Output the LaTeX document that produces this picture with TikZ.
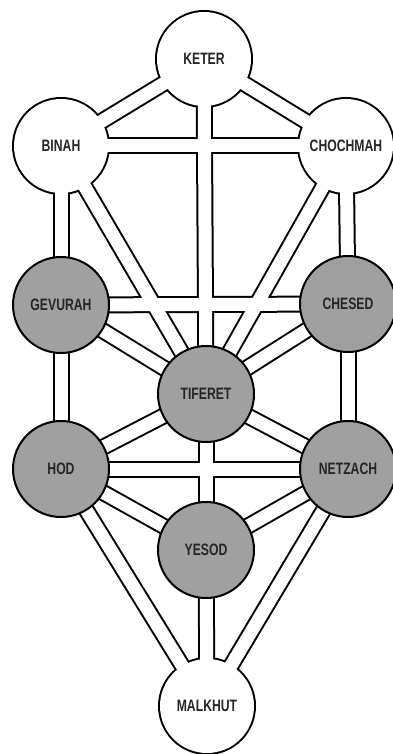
\documentclass[tikz,border=0pt]{standalone}
\usepackage{fontspec}
\setmainfont{Liberation Sans}[FakeStretch=0.74]
\definecolor{sefgray}{RGB}{160,160,160}
\pgfdeclarelayer{chA}
\pgfdeclarelayer{chB}
\pgfsetlayers{chA,chB,main}
\tikzset{
  chouter/.style={line width=17pt, black},
  chinner/.style={line width=13pt, white},
  sefname/.style={font=\bfseries\fontsize{16.5}{17}\selectfont, text=black!85},
  light/.style={circle, minimum size=94pt, inner sep=0pt, fill=white, sefname},
  shaded/.style={circle, minimum size=96pt, inner sep=0pt, fill=sefgray, draw=black, line width=2pt, sefname},
}
\begin{document}
\begin{tikzpicture}[x=1pt,y=-1pt]
\useasboundingbox (0,0) rectangle (393,754);
% sephirot
\node[light]  (keter)    at (204,59)  {KETER};
\node[light]  (binah)    at (61,146)  {BINAH};
\node[light]  (chochmah) at (346,146) {CHOCHMAH};
\node[shaded] (gevurah)  at (61,305)  {GEVURAH};
\node[shaded] (chesed)   at (348,304) {CHESED};
\node[shaded] (tiferet)  at (206,394) {TIFERET};
\node[shaded] (hod)      at (61,469)  {HOD};
\node[shaded] (netzach)  at (348,469) {NETZACH};
\node[shaded] (yesod)    at (206,550) {YESOD};
\node[light]  (malkhut)  at (207,706) {MALKHUT};
% paths
\begin{pgfonlayer}{chA}
  \fill[white] (0,0) rectangle (393,754);
  \foreach \s in {keter,binah,chochmah,malkhut}
    \fill[black] (\s.center) circle (49pt);
  \foreach \a/\b in {keter/binah,keter/chochmah,keter/tiferet,binah/chochmah,
                     binah/gevurah,binah/tiferet,chochmah/chesed,chochmah/tiferet,
                     gevurah/chesed,gevurah/tiferet,gevurah/hod,chesed/tiferet,
                     chesed/netzach,tiferet/hod,tiferet/netzach,tiferet/yesod,
                     hod/netzach,hod/yesod,hod/malkhut,netzach/yesod,
                     netzach/malkhut,yesod/malkhut}
    \draw[chouter] (\a.center) -- (\b.center);
\end{pgfonlayer}
\begin{pgfonlayer}{chB}
  \foreach \a/\b in {keter/binah,keter/chochmah,keter/tiferet,binah/chochmah,
                     binah/gevurah,binah/tiferet,chochmah/chesed,chochmah/tiferet,
                     gevurah/chesed,gevurah/tiferet,gevurah/hod,chesed/tiferet,
                     chesed/netzach,tiferet/hod,tiferet/netzach,tiferet/yesod,
                     hod/netzach,hod/yesod,hod/malkhut,netzach/yesod,
                     netzach/malkhut,yesod/malkhut}
    \draw[chinner] (\a.center) -- (\b.center);
\end{pgfonlayer}
\end{tikzpicture}
\end{document}
